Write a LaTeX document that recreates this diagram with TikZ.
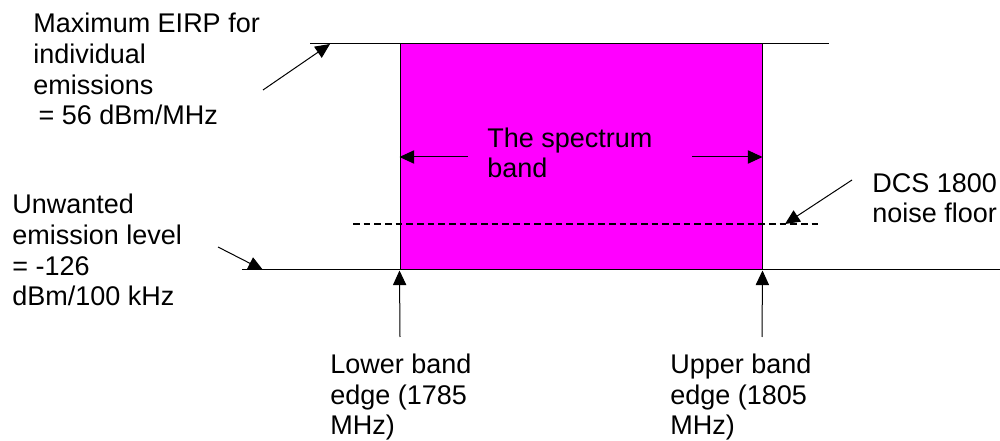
\documentclass[tikz,border=0pt]{standalone}
\usepackage{fontspec}
\setmainfont{Liberation Sans}
\usetikzlibrary{arrows.meta}
\definecolor{bandmagenta}{RGB}{255,0,255}
\begin{document}
\begin{tikzpicture}[x=0.75pt,y=-0.75pt,
  lbl/.style={anchor=base west, inner sep=0pt, align=left, font=\fontsize{20.25pt}{23pt}\selectfont},
  ln/.style={line width=0.75pt},
  dashln/.style={line width=0.8pt, dash pattern=on 5pt off 3pt},
  arr/.style={line width=0.75pt,-{Triangle[length=11pt,width=10pt]}},
  bandbox/.style={draw, line width=0.75pt, fill=bandmagenta, inner sep=0pt,
    minimum width=271.5pt, minimum height=169.5pt},
]
\useasboundingbox (0,0) rectangle (1000,441);
% band
\node[bandbox] (band) at (581,157) {};
% level lines
\coordinate (tl) at (310,44); \coordinate (tr) at (829,44);
\coordinate (bl) at (242,270); \coordinate (br) at (1000,270);
\coordinate (dl) at (353,224); \coordinate (dr) at (822,224);
\draw[ln] (tl) -- (tr);
\draw[ln] (bl) -- (br);
\draw[dashln] (dl) -- (dr);
% labels (anchored at the baseline of the last line)
\node[lbl] (maxlbl) at (33,125) {Maximum EIRP for\\individual\\emissions\\\hspace{4pt}= 56 dBm/MHz};
\node[lbl] (unwlbl) at (12,306) {Unwanted\\emission level\\= -126\\dBm/100 kHz};
\node[lbl] (dcslbl) at (872,223) {DCS 1800\\noise floor};
\node[lbl] (speclbl) at (487,178) {The spectrum\\band};
\node[lbl] (lowlbl) at (330,435) {Lower band\\edge (1785\\MHz)};
\node[lbl] (upplbl) at (670,435) {Upper band\\edge (1805\\MHz)};
% arrow anchors
\coordinate (maxT) at (263,90); \coordinate (maxH) at (330,44);
\coordinate (unwT) at (218,247); \coordinate (unwH) at (263,270);
\coordinate (dcsT) at (852,180); \coordinate (dcsH) at (785,224);
\coordinate (specL) at (468,157); \coordinate (specR) at (692,157);
\coordinate (lowT) at (400,337); \coordinate (uppT) at (762,337);
% arrows
\draw[arr] (maxT) -- (maxH);
\draw[arr] (unwT) -- (unwH);
\draw[arr] (dcsT) -- (dcsH);
\draw[arr] (specL) -- (band.west);
\draw[arr] (specR) -- (band.east);
\draw[arr] (lowT) -- (band.south west);
\draw[arr] (uppT) -- (band.south east);
\end{tikzpicture}
\end{document}
